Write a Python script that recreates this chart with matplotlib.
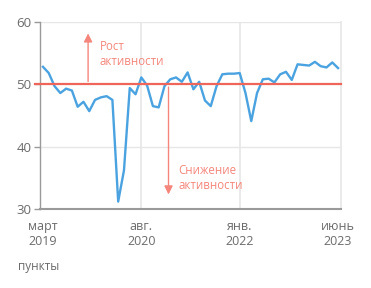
import matplotlib
matplotlib.use("Agg")
import matplotlib.pyplot as plt

plt.rcParams['font.family'] = ['Open Sans', 'DejaVu Sans']

values = [52.8, 51.8, 49.7, 48.6, 49.3, 49.0, 46.4, 47.2, 45.7, 47.5, 47.9, 48.1,
          47.5, 31.2, 36.2, 49.4, 48.4, 51.1, 49.8, 46.5, 46.3, 49.7, 50.8, 51.1,
          50.4, 51.9, 49.2, 50.4, 47.4, 46.5, 49.7, 51.6, 51.7, 51.7, 51.8, 48.6,
          44.1, 48.6, 50.8, 50.9, 50.3, 51.6, 52.0, 50.7, 53.2, 53.1, 53.0, 53.6,
          52.9, 52.7, 53.5, 52.6]
tick_idx = [0, 17, 34, 51]
tick_labels = ["март\n2019", "авг.\n2020", "янв.\n2022", "июнь\n2023"]
yticks = [30, 40, 50, 60]
threshold = 50
label_up = "Рост\nактивности"
label_down = "Снижение\nактивности"
unit_label = "пункты"

grey_text = "#6b6b6b"
red = "#f0655a"
light_red = "#f4867c"
blue = "#4aa3e0"

fig = plt.figure(figsize=(3.71, 2.88), dpi=100)
ax = fig.add_axes([0.108, 0.274, 0.811, 0.650])

x = list(range(len(values)))
ax.set_xlim(-0.5, 51.5)
ax.set_ylim(30, 60)

# grid
for yv in [40, 60]:
    ax.axhline(yv, color="#e6e6e6", lw=1.0, zorder=0)
for xv in [17, 34]:
    ax.axvline(xv, color="#e6e6e6", lw=1.2, zorder=0)

ax.plot(x, values, color=blue, lw=1.7, zorder=3, solid_joinstyle='round')

ax.plot([-1.3, 51.5], [threshold, threshold], color=red, lw=1.6, zorder=4, clip_on=False)

# arrows
ax.annotate("", xy=(7.8, 58.6), xytext=(7.8, threshold),
            arrowprops=dict(arrowstyle="-|>,head_length=0.5,head_width=0.25", color=light_red, lw=1.0), zorder=2)
ax.text(9.8, 57.1, label_up, color=light_red, fontsize=8.3, va='top', ha='left', linespacing=1.25)
ax.annotate("", xy=(21.7, 31.9), xytext=(21.7, threshold),
            arrowprops=dict(arrowstyle="-|>,head_length=0.5,head_width=0.25", color=light_red, lw=1.0), zorder=2)
ax.text(23.4, 37.3, label_down, color=light_red, fontsize=8.3, va='top', ha='left', linespacing=1.25)

ax.set_yticks(yticks)
ax.set_yticklabels([str(v) for v in yticks])
ax.set_xticks(tick_idx)
ax.set_xticklabels(tick_labels)
ax.tick_params(axis='y', colors="#9a9a9a", labelcolor=grey_text, labelsize=9.5, length=4, width=1, pad=2)
ax.tick_params(axis='x', length=0, labelcolor=grey_text, labelsize=9, pad=8)
for lab in ax.get_xticklabels():
    lab.set_linespacing(1.15)

ax.spines['top'].set_visible(False)
ax.spines['right'].set_color("#e6e6e6")
ax.spines['right'].set_linewidth(1.2)
ax.spines['left'].set_color("#9a9a9a")
ax.spines['bottom'].set_color("#9a9a9a")
ax.spines['left'].set_linewidth(1.0)
ax.spines['bottom'].set_linewidth(1.5)

fig.text(0.049, 0.075, unit_label, color=grey_text, fontsize=8.5, ha='left', va='center')

fig.savefig("out.png", dpi=100)
